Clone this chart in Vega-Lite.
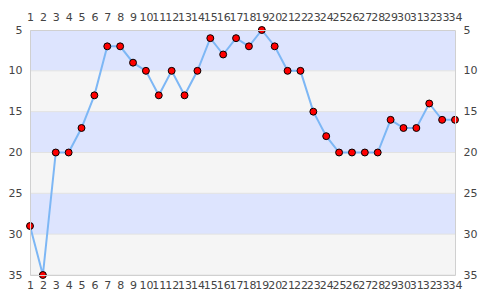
{
  "$schema": "https://vega.github.io/schema/vega-lite/v6.json",
  "width": 425,
  "height": 245,
  "autosize": "none",
  "padding": {"left": 30, "top": 30, "right": 30, "bottom": 25},
  "background": "white",
  "config": {
    "view": {"stroke": null},
    "font": "DejaVu Sans"
  },
  "datasets": {
    "bands": [
      {"lo": 5, "hi": 10, "band": "a"},
      {"lo": 10, "hi": 15, "band": "b"},
      {"lo": 15, "hi": 20, "band": "a"},
      {"lo": 20, "hi": 25, "band": "b"},
      {"lo": 25, "hi": 30, "band": "a"},
      {"lo": 30, "hi": 35, "band": "b"}
    ],
    "series": [
      {"round": 1, "rank": 29}, {"round": 2, "rank": 35}, {"round": 3, "rank": 20},
      {"round": 4, "rank": 20}, {"round": 5, "rank": 17}, {"round": 6, "rank": 13},
      {"round": 7, "rank": 7}, {"round": 8, "rank": 7}, {"round": 9, "rank": 9},
      {"round": 10, "rank": 10}, {"round": 11, "rank": 13}, {"round": 12, "rank": 10},
      {"round": 13, "rank": 13}, {"round": 14, "rank": 10}, {"round": 15, "rank": 6},
      {"round": 16, "rank": 8}, {"round": 17, "rank": 6}, {"round": 18, "rank": 7},
      {"round": 19, "rank": 5}, {"round": 20, "rank": 7}, {"round": 21, "rank": 10},
      {"round": 22, "rank": 10}, {"round": 23, "rank": 15}, {"round": 24, "rank": 18},
      {"round": 25, "rank": 20}, {"round": 26, "rank": 20}, {"round": 27, "rank": 20},
      {"round": 28, "rank": 20}, {"round": 29, "rank": 16}, {"round": 30, "rank": 17},
      {"round": 31, "rank": 17}, {"round": 32, "rank": 14}, {"round": 33, "rank": 16},
      {"round": 34, "rank": 16}
    ]
  },
  "resolve": {"axis": {"x": "independent", "y": "independent"}},
  "layer": [
    {
      "data": {"name": "bands"},
      "mark": {"type": "rect", "strokeWidth": 0},
      "encoding": {
        "y": {"field": "lo", "type": "quantitative", "scale": {"domain": [5, 35], "reverse": true, "nice": false}, "axis": null},
        "y2": {"field": "hi"},
        "color": {"field": "band", "type": "nominal", "scale": {"domain": ["a", "b"], "range": ["#dde4fe", "#f5f5f5"]}, "legend": null}
      }
    },
    {
      "data": {"name": "bands"},
      "mark": {"type": "rule", "color": "#e2e2e2", "strokeWidth": 1},
      "encoding": {
        "y": {"field": "hi", "type": "quantitative", "scale": {"domain": [5, 35], "reverse": true, "nice": false}, "axis": null}
      }
    },
    {
      "data": {"name": "series"},
      "mark": {"type": "line", "color": "#7db7f5", "strokeWidth": 2},
      "encoding": {
        "x": {"field": "round", "type": "quantitative", "scale": {"domain": [1, 34], "nice": false},
          "axis": {"orient": "bottom", "values": [1,2,3,4,5,6,7,8,9,10,11,12,13,14,15,16,17,18,19,20,21,22,23,24,25,26,27,28,29,30,31,32,33,34],
            "title": null, "grid": false, "ticks": false, "domain": true, "domainColor": "#d0d0d0", "zindex": 1,
            "labelFontSize": 11, "labelColor": "#444", "labelPadding": 4, "labelOverlap": false, "labelFlush": false}},
        "y": {"field": "rank", "type": "quantitative", "scale": {"domain": [5, 35], "reverse": true, "nice": false},
          "axis": {"orient": "left", "values": [5, 10, 15, 20, 25, 30, 35], "title": null, "grid": false, "ticks": false,
            "domain": true, "domainColor": "#d0d0d0", "zindex": 1,
            "labelFontSize": 11, "labelColor": "#444", "labelPadding": 8, "labelFlush": false}}
      }
    },
    {
      "data": {"name": "series"},
      "mark": {"type": "point", "filled": true, "fill": "#ff0000", "stroke": "#000000", "strokeWidth": 1, "size": 48, "opacity": 1},
      "encoding": {
        "x": {"field": "round", "type": "quantitative", "scale": {"domain": [1, 34], "nice": false},
          "axis": {"orient": "top", "values": [1,2,3,4,5,6,7,8,9,10,11,12,13,14,15,16,17,18,19,20,21,22,23,24,25,26,27,28,29,30,31,32,33,34],
            "title": null, "grid": false, "ticks": false, "domain": true, "domainColor": "#d0d0d0", "zindex": 1,
            "labelFontSize": 11, "labelColor": "#444", "labelPadding": 8, "labelOverlap": false, "labelFlush": false}},
        "y": {"field": "rank", "type": "quantitative", "scale": {"domain": [5, 35], "reverse": true, "nice": false},
          "axis": {"orient": "right", "values": [5, 10, 15, 20, 25, 30, 35], "title": null, "grid": false, "ticks": false,
            "domain": true, "domainColor": "#d0d0d0", "zindex": 1,
            "labelFontSize": 11, "labelColor": "#444", "labelPadding": 8, "labelFlush": false}}
      }
    }
  ]
}
